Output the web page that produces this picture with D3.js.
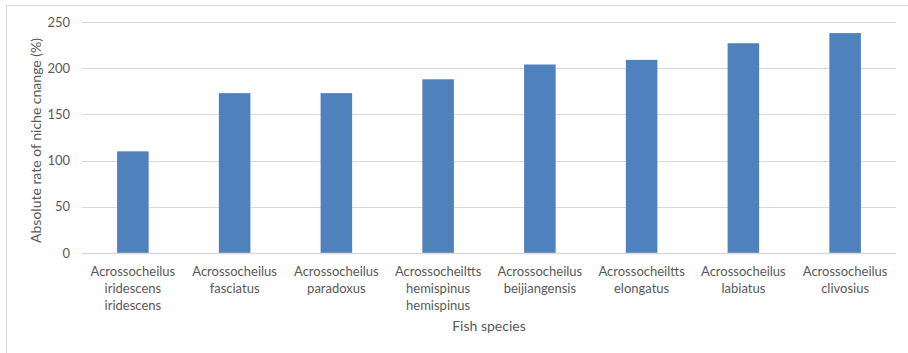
<!DOCTYPE html>
<html>
<head>
<meta charset="utf-8">
<script src="https://cdn.jsdelivr.net/npm/d3@7"></script>
<style>
  html, body { margin: 0; padding: 0; background: #fff; }
  svg { display: block; }
  text { font-family: Lato, "Open Sans", "Liberation Sans", sans-serif; fill: #595959; }
</style>
</head>
<body>
<svg id="chart" width="908" height="353"></svg>
<script>
// Species names, each split into the lines shown under its bar
const species = [
  ["Acrossocheilus", "iridescens", "iridescens"],
  ["Acrossocheilus", "fasciatus"],
  ["Acrossocheilus", "paradoxus"],
  ["Acrossocheiltts", "hemispinus", "hemispinus"],
  ["Acrossocheilus", "beijiangensis"],
  ["Acrossocheiltts", "elongatus"],
  ["Acrossocheilus", "labiatus"],
  ["Acrossocheilus", "clivosius"]
];
// Absolute rate of niche change (%)
const rates = [110, 173, 173, 188, 204, 209, 227, 238];
const yTicks = [0, 50, 100, 150, 200, 250];

const svg = d3.select("#chart");
const plot = { left: 82, right: 896, top: 22, bottom: 253 };
const FONT = 'Lato, "Open Sans", "Liberation Sans", sans-serif';

// Chart frame
svg.append("rect")
  .attr("x", 6.5).attr("y", 5.5)
  .attr("width", 960).attr("height", 400)
  .attr("fill", "none").attr("stroke", "#d9d9d9").attr("stroke-width", 1);

const keys = species.map((d, i) => i);
const x = d3.scaleBand().domain(keys).range([plot.left, plot.right]).paddingInner(0.69).paddingOuter(0.345);
const y = d3.scaleLinear().domain([0, 250]).range([plot.bottom, plot.top]);

// Gridlines
svg.append("g").selectAll("line").data(yTicks.filter(t => t > 0)).join("line")
  .attr("x1", plot.left).attr("x2", plot.right)
  .attr("y1", d => Math.round(y(d)) + 0.5).attr("y2", d => Math.round(y(d)) + 0.5)
  .attr("stroke", "#d9d9d9").attr("stroke-width", 1);

// Bars
svg.append("g").selectAll("rect").data(rates).join("rect")
  .attr("x", (d, i) => x(i))
  .attr("width", x.bandwidth())
  .attr("y", d => y(d))
  .attr("height", d => y(0) - y(d))
  .attr("fill", "#4f81bd");

// Baseline
svg.append("line")
  .attr("x1", plot.left).attr("x2", plot.right)
  .attr("y1", y(0) + 0.5).attr("y2", y(0) + 0.5)
  .attr("stroke", "#d9d9d9").attr("stroke-width", 1.5);

// Y axis tick labels
const yAxis = d3.axisLeft(y).tickValues(yTicks).tickSize(0).tickPadding(12);
const gy = svg.append("g").attr("transform", `translate(${plot.left},0)`).call(yAxis);
gy.select(".domain").remove();
gy.selectAll("text").style("font-family", FONT)
  .style("font-size", "13px").attr("fill", "#595959");

// Category labels
const gx = svg.append("g");
species.forEach((lines, i) => {
  const cx = x(i) + x.bandwidth() / 2;
  const t = gx.append("text")
    .attr("text-anchor", "middle")
    .attr("x", cx)
    .attr("y", 276)
    .style("font-size", "13px");
  lines.forEach((s, j) => {
    t.append("tspan").attr("x", cx).attr("dy", j === 0 ? 0 : 17).text(s);
  });
});

// Axis titles
svg.append("text")
  .attr("x", (plot.left + plot.right) / 2).attr("y", 331)
  .attr("text-anchor", "middle").style("font-size", "14px")
  .text("Fish species");

svg.append("text")
  .attr("transform", `translate(41,${(plot.top + plot.bottom) / 2 + 3}) rotate(-90)`)
  .attr("text-anchor", "middle").style("font-size", "14px")
  .text("Absolute rate of niche cnange (%)");
</script>
</body>
</html>
